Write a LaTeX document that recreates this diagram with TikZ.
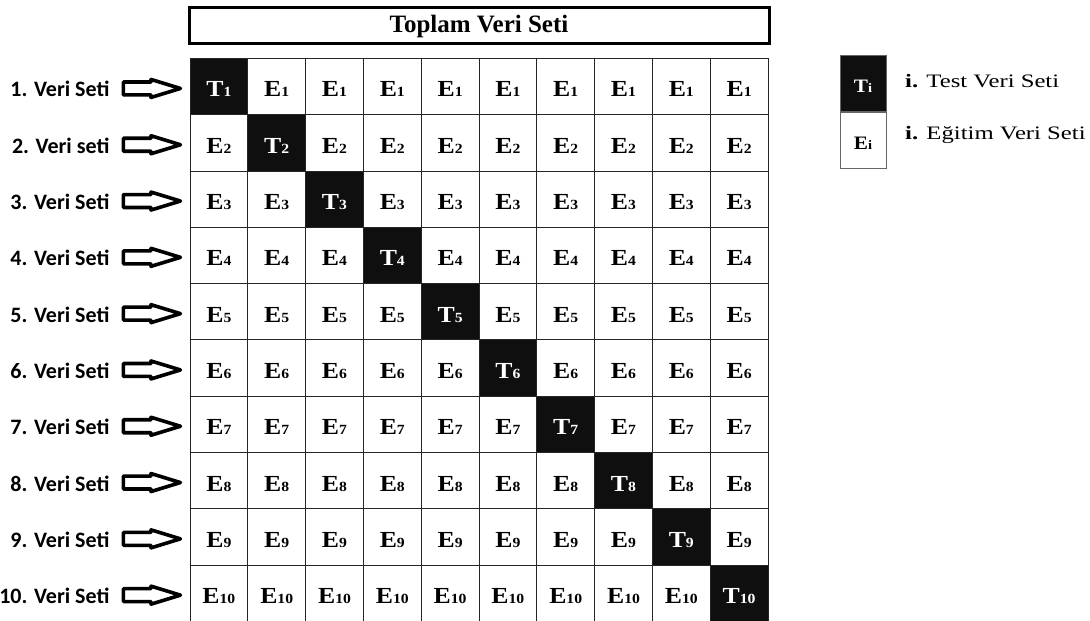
\documentclass[tikz,border=0pt]{standalone}
\usepackage{fontspec}
\usepackage{tikz}
\usetikzlibrary{shapes,arrows,positioning}
\setmainfont{Liberation Serif}
\newfontfamily\cellfont[FakeStretch=1.12]{Liberation Serif}
\newfontfamily\keyfont[FakeStretch=1.3]{Liberation Serif}
\newfontfamily\rowfont{Carlito}
% big letter, then the smaller index
\newcommand{\celltxt}[4]{{\fontsize{#1}{#1}\selectfont #2}{\fontsize{#3}{#3}\selectfont #4}}
\tikzset{
  cell/.style={draw=black!85, line width=0.8pt, minimum width=57.8pt, minimum height=56.3pt,
    inner sep=0pt, text height=21pt, text depth=0pt, font=\cellfont\bfseries},
  testcell/.style={cell, fill=black!94, text=white},
  traincell/.style={cell, fill=white},
  setarrow/.style={single arrow, draw=black, fill=white, line width=3.6pt, line join=round,
    minimum height=57pt, minimum width=18pt, inner sep=3.3pt,
    single arrow head extend=2pt, single arrow tip angle=34},
  rowlabel/.style={inner sep=0pt, text height=21pt, text depth=0pt,
    font=\rowfont\bfseries\fontsize{22}{22}\selectfont},
  keytext/.style={inner sep=0pt, font=\keyfont\fontsize{19}{20}\selectfont}
}
\begin{document}
\begin{tikzpicture}[x=1pt,y=-1pt]
\useasboundingbox (0,0) rectangle (1090,621);
% title
\node[draw, line width=3pt, minimum width=580pt, minimum height=36pt, inner sep=0pt,
  text height=13.6pt, text depth=0pt, font=\bfseries\fontsize{25}{26}\selectfont]
  (title) at (479,25.5) {Toplam Veri Seti};
% grid of folds
\foreach \r in {1,...,10}{
  \foreach \c in {1,...,10}{
    \ifnum\r=\c
      \node[testcell] (c-\r-\c) at ({190+(\c-0.5)*57.8},{58.3+(\r-0.5)*56.3}) {\celltxt{23}{T}{14}{\r}};
    \else
      \node[traincell] (c-\r-\c) at ({190+(\c-0.5)*57.8},{58.3+(\r-0.5)*56.3}) {\celltxt{23}{E}{14}{\r}};
    \fi
  }
}
% row arrows and labels
\foreach \r in {1,...,10}{
  \node[setarrow, left=3pt of c-\r-1, yshift=-2pt] (a-\r) {};
}
\foreach \r/\txt in {1/1. Veri Seti, 2/2. Veri seti, 3/3. Veri Seti, 4/4. Veri Seti,
  5/5. Veri Seti, 6/6. Veri Seti, 7/7. Veri Seti, 8/8. Veri Seti, 9/9. Veri Seti, 10/10. Veri Seti}{
  \node[rowlabel, left=12pt of a-\r, yshift=2pt] (l-\r) {\txt};
}
% legend
\node[testcell, draw=black!60, minimum width=46pt, minimum height=56pt, text height=18pt]
  (kT) at (863,83.5) {\celltxt{19}{T}{13}{i}};
\node[traincell, draw=black!60, minimum width=46pt, minimum height=56pt, text height=18pt,
  below=0pt of kT] (kE) {\celltxt{19}{E}{13}{i}};
\node[keytext, anchor=base west] (kT-txt) at (905,87) {\textbf{i.} Test Veri Seti};
\node[keytext, anchor=base west] (kE-txt) at (905,139) {\textbf{i.} Eğitim Veri Seti};
\end{tikzpicture}
\end{document}
